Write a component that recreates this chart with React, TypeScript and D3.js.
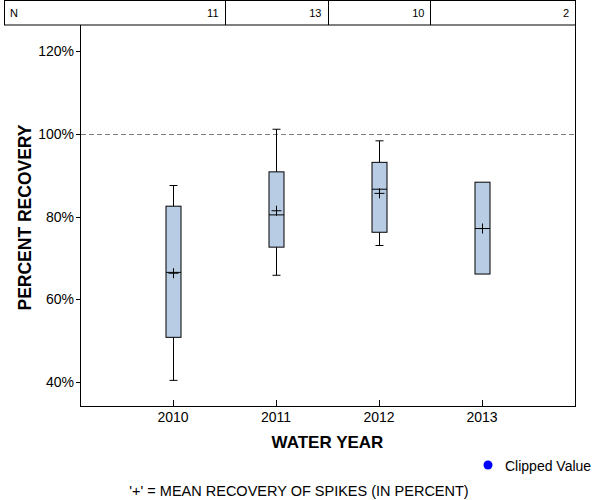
import React from 'react';
import * as d3 from 'd3';

const years = ['2010', '2011', '2012', '2013'];
const nCounts = [11, 13, 10, 2];
const whiskerLow: (number | null)[] = [40.4, 65.8, 73.0, null];
const q1 = [50.8, 72.6, 76.2, 66.1];
const median = [66.5, 80.4, 86.6, 77.1];
const mean = [66.3, 81.4, 85.6, 77.1];
const q3 = [82.5, 90.8, 93.1, 88.3];
const whiskerHigh: (number | null)[] = [87.5, 101.1, 98.3, null];
const yTicks = [40, 60, 80, 100, 120];
const refLine = 100;

const W = 600, H = 500;
const left = 80, right = 575, top = 25, bottom = 406;
const tableTop = 1, tableLeft = 4;
const FONT = 'Arial, "Liberation Sans", sans-serif';

export default function App() {
  const x = d3.scalePoint<string>().domain(years).range([left, right]).padding(0.903);
  const y = d3.scaleLinear().domain([34.2, 126.3]).range([bottom, top]);
  const step = x.step();
  const bounds = [tableLeft, ...years.slice(1).map((yr) => (x(yr) as number) - step / 2), right];
  const boxW = 15, capW = 8, plus = 5;

  return (
    <svg width={W} height={H} style={{ position: 'absolute', left: 0, top: 0, background: '#fff' }} fontFamily={FONT}>
      {/* N table */}
      <rect x={tableLeft + 0.5} y={tableTop - 0.5} width={right - tableLeft} height={top - tableTop + 0.5} fill="none" stroke="#000" />
      {bounds.slice(1, -1).map((b, i) => (
        <line key={i} x1={Math.round(b) + 0.5} x2={Math.round(b) + 0.5} y1={tableTop} y2={top} stroke="#000" />
      ))}
      <text x={10} y={17} fontSize={11} fill="#000">N</text>
      {nCounts.map((n, i) => (
        <text key={i} x={bounds[i + 1] - 6} y={17} fontSize={11} textAnchor="end" fill="#000">{n}</text>
      ))}

      {/* frame */}
      <line x1={left + 0.5} x2={left + 0.5} y1={top} y2={bottom} stroke="#000" />
      <line x1={right + 0.5} x2={right + 0.5} y1={top} y2={bottom} stroke="#000" />
      <line x1={left} x2={right + 1} y1={bottom + 0.5} y2={bottom + 0.5} stroke="#000" />

      {/* y ticks */}
      {yTicks.map((t) => (
        <g key={t}>
          <line x1={left - 4} x2={left} y1={Math.round(y(t)) + 0.5} y2={Math.round(y(t)) + 0.5} stroke="#000" />
          <text x={left - 6} y={y(t) + 5} fontSize={14} textAnchor="end" fill="#000">{t}%</text>
        </g>
      ))}
      {/* x ticks */}
      {years.map((yr) => (
        <g key={yr}>
          <line x1={Math.round(x(yr) as number) + 0.5} x2={Math.round(x(yr) as number) + 0.5} y1={bottom - 6} y2={bottom} stroke="#000" />
          <text x={x(yr)} y={422} fontSize={14} textAnchor="middle" fill="#000">{yr}</text>
        </g>
      ))}

      {/* reference line */}
      <line x1={left + 1} x2={right} y1={Math.round(y(refLine)) + 0.5} y2={Math.round(y(refLine)) + 0.5} stroke="#808080" strokeDasharray="5,3" />

      {/* boxes */}
      {years.map((yr, i) => {
        const cx = Math.round(x(yr) as number) + 0.5;
        const wl = whiskerLow[i], wh = whiskerHigh[i];
        return (
          <g key={yr} stroke="#000" strokeWidth={1}>
            {wh !== null && <line x1={cx} x2={cx} y1={y(wh)} y2={y(q3[i])} />}
            {wh !== null && <line x1={cx - capW / 2} x2={cx + capW / 2} y1={y(wh)} y2={y(wh)} />}
            {wl !== null && <line x1={cx} x2={cx} y1={y(q1[i])} y2={y(wl)} />}
            {wl !== null && <line x1={cx - capW / 2} x2={cx + capW / 2} y1={y(wl)} y2={y(wl)} />}
            <rect x={cx - boxW / 2} y={y(q3[i])} width={boxW} height={y(q1[i]) - y(q3[i])} fill="#b8cce4" />
            <line x1={cx - boxW / 2} x2={cx + boxW / 2} y1={y(median[i])} y2={y(median[i])} />
            <line x1={cx - plus} x2={cx + plus} y1={y(mean[i])} y2={y(mean[i])} />
            <line x1={cx} x2={cx} y1={y(mean[i]) - plus} y2={y(mean[i]) + plus} />
          </g>
        );
      })}

      {/* axis titles */}
      <text x={(left + right) / 2} y={448} fontSize={17} fontWeight="bold" textAnchor="middle" fill="#000">WATER YEAR</text>
      <text transform={`translate(31, ${(top + bottom) / 2 + 2}) rotate(-90)`} fontSize={17.5} fontWeight="bold" textAnchor="middle" fill="#000">PERCENT RECOVERY</text>

      {/* legend */}
      <circle cx={488} cy={465} r={4.5} fill="#0000ff" />
      <text x={505} y={471} fontSize={14} fill="#000">Clipped Value</text>

      {/* footer */}
      <text x={299} y={496} fontSize={14.5} textAnchor="middle" fill="#000">'+' = MEAN RECOVERY OF SPIKES (IN PERCENT)</text>
    </svg>
  );
}
